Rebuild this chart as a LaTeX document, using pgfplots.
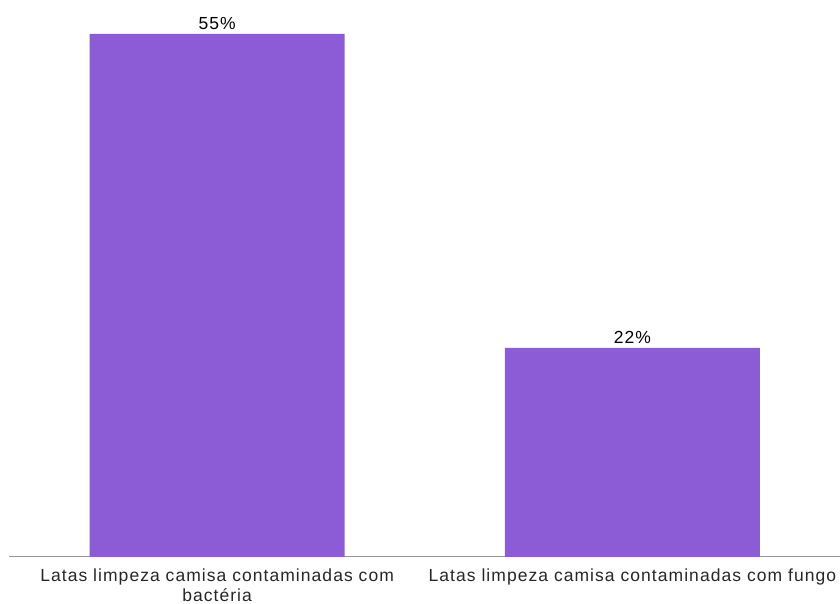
\documentclass[border=0pt]{standalone}
\usepackage{pgfplots}
\pgfplotsset{compat=1.18}
\usepackage{fontspec}
\setmainfont{Liberation Sans}
\newfontfamily\lblfont[LetterSpace=6]{Liberation Sans}
\definecolor{barc}{RGB}{139,92,214}
\definecolor{axc}{RGB}{150,150,150}
\begin{document}
\begin{tikzpicture}[x=1pt,y=1pt]
\useasboundingbox (0,0) rectangle (840,604);
\begin{axis}[
  at={(9.5pt,47pt)}, anchor=south west,
  scale only axis, width=830.5pt, height=523pt,
  xmin=-0.5, xmax=1.5, ymin=0, ymax=55,
  axis x line*=bottom, axis y line=none,
  x axis line style={draw=axc, line width=1pt, -},
  xtick={0,1}, xtick style={draw=none},
  xticklabels={{Latas limpeza camisa contaminadas com\\bactéria},{Latas limpeza camisa contaminadas com fungo}},
  xticklabel style={align=center, font=\lblfont\fontsize{17.5}{20}\selectfont, text=black!85, yshift=-8pt},
  ytick=\empty,
  clip=false,
  /pgf/number format/assume math mode=true,
  nodes near coords={\pgfmathprintnumber{\pgfplotspointmeta}\%},
  every node near coord/.append style={font=\lblfont\fontsize{17.5}{20}\selectfont, text=black, yshift=1pt},
]
\addplot[ybar, bar width=255pt, fill=barc, draw=none] coordinates {(0,55) (1,22)};
\end{axis}
\end{tikzpicture}
\end{document}
